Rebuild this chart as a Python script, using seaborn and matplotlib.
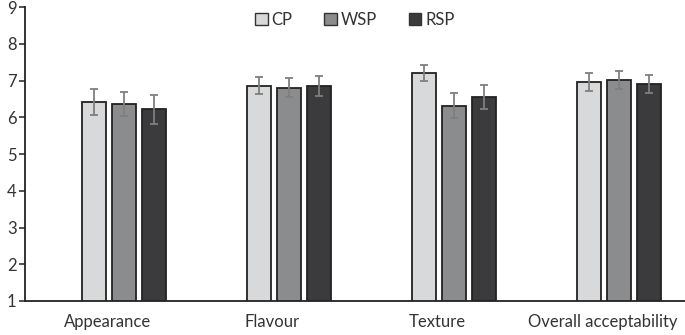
import numpy as np
import pandas as pd
import matplotlib
matplotlib.use("Agg")
import matplotlib.pyplot as plt
import seaborn as sns
from matplotlib.patches import Patch

# Sensory scores (mean and standard deviation) for each sample
attributes = ["Appearance", "Flavour", "Texture", "Overall acceptability"]
samples = ["CP", "WSP", "RSP"]
cp_mean = [6.41, 6.86, 7.21, 6.96]
wsp_mean = [6.36, 6.81, 6.31, 7.01]
rsp_mean = [6.22, 6.86, 6.56, 6.90]
cp_sd = [0.35, 0.24, 0.22, 0.25]
wsp_sd = [0.32, 0.26, 0.34, 0.25]
rsp_sd = [0.39, 0.27, 0.33, 0.24]
y_ticks = [1, 2, 3, 4, 5, 6, 7, 8, 9]

means = {"CP": cp_mean, "WSP": wsp_mean, "RSP": rsp_mean}
sds = {"CP": cp_sd, "WSP": wsp_sd, "RSP": rsp_sd}
colors = {"CP": "#d8d9db", "WSP": "#8b8c8e", "RSP": "#3b3b3d"}

df = pd.DataFrame(
    [(a, s, means[s][i]) for s in samples for i, a in enumerate(attributes)],
    columns=["attribute", "sample", "score"],
)

sns.set_style("white")
plt.rcParams["font.family"] = ["Lato", "DejaVu Sans"]

fig = plt.figure(figsize=(6.85, 3.35), dpi=100)
ax = fig.add_axes([0.0365, 0.1015, 0.9635, 0.8775])

sns.barplot(
    data=df, x="attribute", y="score", hue="sample",
    order=attributes, hue_order=samples, palette=colors,
    width=0.545, gap=0.19, errorbar=None,
    edgecolor="#222222", linewidth=1.3, legend=False, ax=ax,
)

# Error bars at the centres of the drawn bars
for s, cont in zip(samples, ax.containers):
    xs = [b.get_x() + b.get_width() / 2 for b in cont]
    hs = [b.get_height() for b in cont]
    ax.errorbar(xs, hs, yerr=sds[s], fmt="none", ecolor="#7f7f7f",
                elinewidth=1.3, capsize=3.0, capthick=1.3, zorder=5)

ax.set_ylim(1, 9)
ax.set_yticks(y_ticks)
ax.set_xlim(-0.6, 3.4)
# category labels sit slightly left of their bar groups
ax.set_xticks(np.arange(len(attributes)) - 0.1, attributes)
ax.set_xlabel("")
ax.set_ylabel("")

for side in ["top", "right"]:
    ax.spines[side].set_visible(False)
for side in ["left", "bottom"]:
    ax.spines[side].set_color("#222222")
    ax.spines[side].set_linewidth(1.3)

ax.tick_params(axis="y", which="major", left=True, length=4, width=1.1,
               color="#222222", labelsize=12, labelcolor="#333333", pad=2)
ax.tick_params(axis="x", bottom=False, labelsize=12, labelcolor="#333333", pad=6)

handles = [Patch(facecolor=colors[s], edgecolor="#333333", linewidth=1.0, label=s)
           for s in samples]
ax.legend(handles=handles, loc="upper center", bbox_to_anchor=(0.5, 1.035),
          ncol=3, frameon=False, fontsize=12, handlelength=0.75, handleheight=0.75,
          handletextpad=0.25, columnspacing=1.9, labelcolor="#333333")

fig.savefig("out.png", dpi=100)
